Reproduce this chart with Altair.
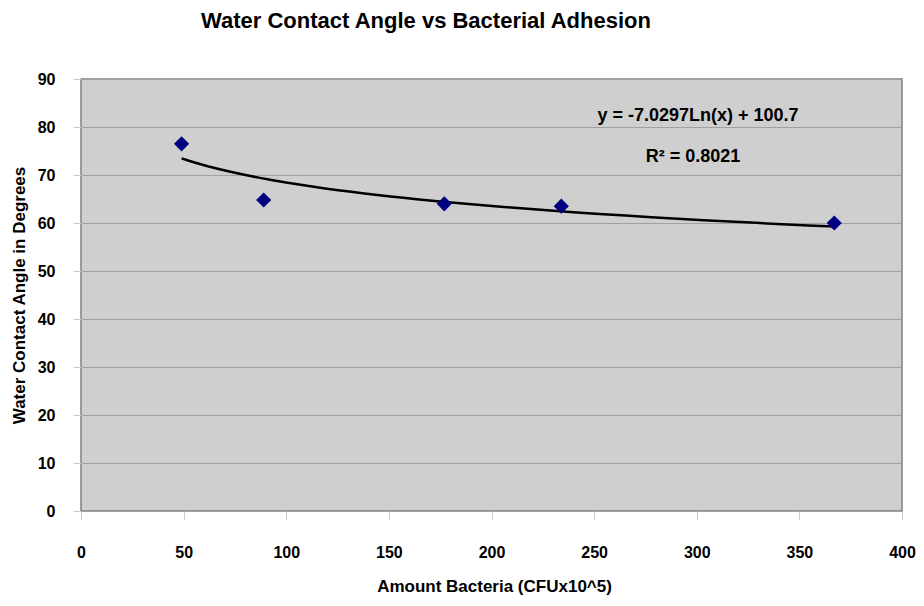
import altair as alt
import pandas as pd

# ---- data ----
bacteria = [49, 89, 177, 234, 367]
contact_angle = [76.5, 64.8, 64.0, 63.5, 60.0]
x_ticks = [0, 50, 100, 150, 200, 250, 300, 350, 400]
y_ticks = [0, 10, 20, 30, 40, 50, 60, 70, 80, 90]

title_text = "Water Contact Angle vs Bacterial Adhesion"
x_title = "Amount Bacteria (CFUx10^5)"
y_title = "Water Contact Angle in Degrees"
equation_text = "y = -7.0297Ln(x) + 100.7"
r2_text = "R² = 0.8021"

df = pd.DataFrame({"bacteria": bacteria, "angle": contact_angle})

FONT = "Liberation Sans"
W, H = 821, 432

x_enc = alt.X(
    "bacteria:Q",
    scale=alt.Scale(domain=[0, 400], nice=False, zero=True),
    axis=alt.Axis(
        values=x_ticks,
        title=x_title,
        grid=False,
        domain=False,
        tickColor="#c8c8c8",
        tickSize=8,
        labelPadding=25,
        labelFont=FONT,
        labelFontSize=16,
        labelFontWeight="bold",
        labelColor="#000000",
        labelFlush=False,
        titleFont=FONT,
        titleFontSize=17,
        titleFontWeight="bold",
        titleColor="#000000",
        titleBaseline="middle",
        titleX=413,
        titleY=75,
    ),
)
y_enc = alt.Y(
    "angle:Q",
    scale=alt.Scale(domain=[0, 90], nice=False),
    axis=alt.Axis(
        values=y_ticks,
        title=y_title,
        grid=True,
        gridColor="#a0a0a0",
        gridWidth=1,
        domain=False,
        tickColor="#c8c8c8",
        tickSize=8,
        labelPadding=18,
        labelFont=FONT,
        labelFontSize=16,
        labelFontWeight="bold",
        labelColor="#000000",
        titleFont=FONT,
        titleFontSize=17,
        titleFontWeight="bold",
        titleColor="#000000",
        titleAngle=-90,
        titleBaseline="middle",
        titleX=-62,
        titleY=H / 2,
    ),
)

base = alt.Chart(df)

points = base.mark_point(
    shape="diamond", filled=True, color="#000080", size=230, opacity=1
).encode(x=x_enc, y=y_enc)

trend = (
    base.transform_regression("bacteria", "angle", method="log")
    .mark_line(color="#000000", strokeWidth=2.5)
    .encode(x="bacteria:Q", y="angle:Q")
)

text_style = dict(font=FONT, fontWeight="bold", color="#000000", align="center")

title_mark = (
    alt.Chart(pd.DataFrame({"label": [title_text]}))
    .mark_text(fontSize=22, baseline="alphabetic", **text_style)
    .encode(text="label:N", x=alt.value(345), y=alt.value(-51))
)
eq = (
    alt.Chart(pd.DataFrame({"label": [equation_text]}))
    .mark_text(fontSize=18, baseline="middle", **text_style)
    .encode(text="label:N", x=alt.value(617), y=alt.value(37))
)
r2 = (
    alt.Chart(pd.DataFrame({"label": [r2_text]}))
    .mark_text(fontSize=18, baseline="middle", **text_style)
    .encode(text="label:N", x=alt.value(612), y=alt.value(78))
)

chart = (
    alt.layer(trend, points, eq, r2, title_mark)
    .properties(
        width=W,
        height=H,
        autosize=alt.AutoSizeParams(type="none"),
        padding={"left": 73, "top": 71, "right": 14, "bottom": 87},
        background="#ffffff",
    )
    .configure_view(fill="#cfcfcf", stroke="#808080", strokeWidth=1.5)
)

chart.save("out.html", embed_options={"renderer": "svg", "actions": False})
